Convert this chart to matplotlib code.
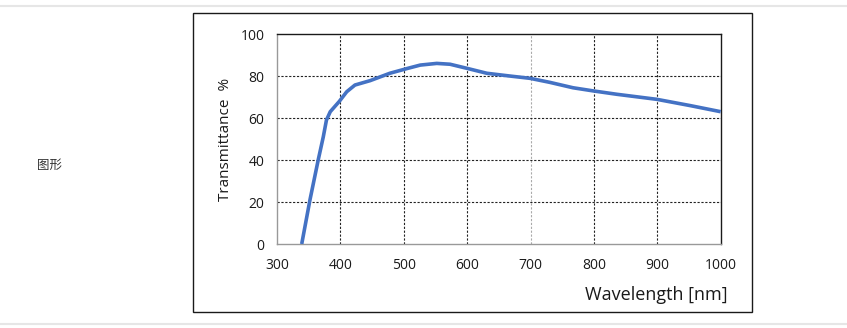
import matplotlib
matplotlib.use("Agg")
import matplotlib.pyplot as plt
from matplotlib.patches import Rectangle
from matplotlib.lines import Line2D

wavelength = [339, 352, 365, 373, 378, 384, 398, 410, 423, 447, 478, 507, 526, 552, 573,
              599, 631, 667, 699, 730, 767, 799, 836, 899, 952, 1000]
transmittance = [0, 21, 40, 51, 59, 63, 67.8, 72.5, 75.7, 77.8, 81.3, 83.7, 85.2, 86.0,
                 85.6, 83.7, 81.3, 80.0, 78.9, 77.0, 74.4, 72.9, 71.3, 68.9, 65.9, 63.0]
xticks = [300, 400, 500, 600, 700, 800, 900, 1000]
yticks = [0, 20, 40, 60, 80, 100]

plt.rcParams['font.family'] = ['Open Sans', 'Noto Sans CJK SC', 'DejaVu Sans']

fig = plt.figure(figsize=(8.47, 3.28), dpi=100)
W, H = 847, 328

# page decorations
for yy in (6, 324):
    fig.add_artist(Line2D([0, 1], [1 - yy / H, 1 - yy / H], color='#e6e6e6', lw=1.5,
                          transform=fig.transFigure))
fig.add_artist(Rectangle((193 / W, 1 - 312 / H), (752 - 193) / W, (312 - 13) / H,
                         transform=fig.transFigure, fill=False, ec='#1a1a1a', lw=1.0))
fig.text(49 / W, 1 - 165 / H, '图形', fontsize=9, color='#333333', ha='center', va='center',
         family=['Noto Sans CJK SC', 'DejaVu Sans'])

ax = fig.add_axes([277 / W, 1 - 244 / H, (720.7 - 277) / W, (244 - 34) / H])
ax.plot(wavelength, transmittance, color='#4472c4', lw=2.6, solid_joinstyle='round',
        solid_capstyle='butt', zorder=3)
ax.set_xlim(300, 1000)
ax.set_ylim(0, 100)
ax.set_xticks(xticks)
ax.set_yticks(yticks)
ax.tick_params(length=0, labelsize=10, colors='#1a1a1a')
ax.tick_params(axis='x', pad=10)
ax.tick_params(axis='y', pad=9)

for v in xticks[1:-1]:
    ax.axvline(v, color='#aaaaaa' if v == 700 else '#222222', lw=0.8,
               ls=(0, (2, 1.5)), zorder=1)
for v in yticks[1:-1]:
    ax.axhline(v, color='#222222', lw=0.8, ls=(0, (2, 1.5)), zorder=1)

for s in ('top', 'right'):
    ax.spines[s].set_color('#1a1a1a')
    ax.spines[s].set_linewidth(1.0)
for s in ('left', 'bottom'):
    ax.spines[s].set_color('#999999')
    ax.spines[s].set_linewidth(1.0)

fig.text(225 / W, 1 - 139 / H, 'Transmittance  %', fontsize=11, color='#1a1a1a',
         rotation=90, ha='center', va='center')
fig.text(728 / W, 1 - 295 / H, 'Wavelength [nm]', fontsize=13, color='#1a1a1a',
         ha='right', va='center')

fig.savefig('out.png', dpi=100)
